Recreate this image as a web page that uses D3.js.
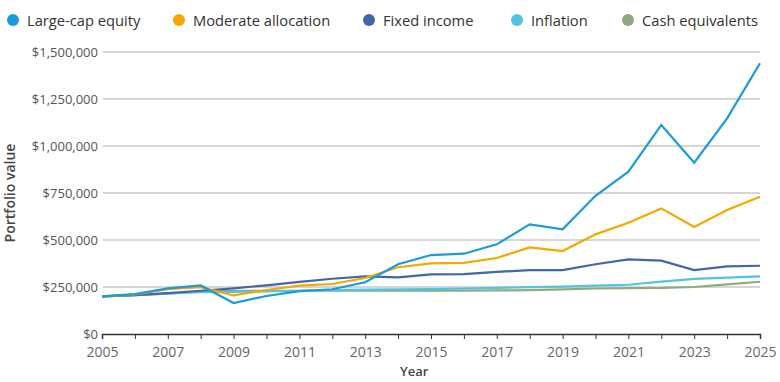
<!DOCTYPE html>
<html><head><meta charset="utf-8">
<script src="https://cdn.jsdelivr.net/npm/d3@7"></script>
<style>
body{margin:0;background:#fff;}
svg{display:block;font-family:"Open Sans",sans-serif;}
</style></head>
<body><svg id="c" width="780" height="382"></svg>
<script>
const years = [2005,2006,2007,2008,2009,2010,2011,2012,2013,2014,2015,2016,2017,2018,2019,2020,2021,2022,2023,2024,2025];
const seriesNames = ["Large-cap equity","Moderate allocation","Fixed income","Inflation","Cash equivalents"];
const seriesColors = ["#1b9bd7","#f5a800","#4466a8","#52c4e3","#8fab7e"];
const largeCap = [200000,212000,243000,258000,165000,202000,228000,238000,275000,371000,420000,427000,477000,583000,557000,735000,863000,1112000,911000,1147000,1440000];
const moderate = [200000,210000,238000,249000,205000,234000,257000,266000,298000,355000,376000,378000,404000,461000,441000,530000,592000,668000,569000,660000,730000];
const fixedInc = [200000,207000,217000,230000,243000,259000,277000,294000,307000,301000,317000,319000,330000,340000,340000,371000,397000,390000,340000,360000,363000];
const inflation = [200000,206000,216000,223000,224000,227000,230000,233000,236000,238000,239000,242000,245000,249000,252000,257000,262000,279000,293000,300000,307000];
const cash = [200000,206000,214000,226000,230000,230000,230000,230000,231000,231000,231000,231000,232000,233000,237000,242000,244000,245000,250000,264000,278000];
const yTicks = [0,250000,500000,750000,1000000,1250000,1500000];
const xTickLabels = [2005,2007,2009,2011,2013,2015,2017,2019,2021,2023,2025];
const legendX = [13,179,369,517,628];

const allSeries = [largeCap, moderate, fixedInc, inflation, cash];
const svg = d3.select("#c");
const x = d3.scaleLinear().domain([2005,2025]).range([102,760]);
const y = d3.scaleLinear().domain([0,1500000]).range([334,52]);

// gridlines
svg.append("g").selectAll("line").data(yTicks.filter(d=>d>0)).join("line")
  .attr("x1",103).attr("x2",760).attr("y1",d=>y(d)).attr("y2",d=>y(d))
  .attr("stroke","#c9c9c9").attr("stroke-width",1.5);

// y labels
svg.append("g").selectAll("text").data(yTicks).join("text")
  .attr("x",98).attr("y",d=>y(d)+4.5).attr("text-anchor","end")
  .attr("font-size",13).attr("fill","#555")
  .text(d=>"$"+d3.format(",")(d));

// x axis
const xAxis = d3.axisBottom(x).tickValues(years).tickSize(5).tickFormat(d=>xTickLabels.includes(d)?String(d):"");
const gx = svg.append("g").attr("transform","translate(0,334)").call(xAxis);
gx.select(".domain").attr("stroke","#333").attr("stroke-width",1.5);
gx.selectAll(".tick line").attr("stroke","#333");
gx.selectAll(".tick text").attr("font-size",14).attr("fill","#666").attr("dy","0").attr("y",23)
  .attr("font-family","Open Sans, sans-serif");

// titles
svg.append("text").attr("x",400).attr("y",376).attr("font-size",13).attr("font-weight",600)
  .attr("fill","#444").text("Year");
svg.append("text").attr("transform","translate(15,193) rotate(-90)").attr("text-anchor","middle")
  .attr("font-size",14).attr("font-weight",600).attr("fill","#444").text("Portfolio value");

// lines
const line = d3.line().x((d,i)=>x(years[i])).y(d=>y(d));
const order = [4,3,2,1,0];
svg.append("g").selectAll("path").data(order).join("path")
  .attr("d",i=>line(allSeries[i])).attr("fill","none")
  .attr("stroke",i=>seriesColors[i]).attr("stroke-width",2.2)
  .attr("stroke-linejoin","miter");

// legend
const lg = svg.append("g").selectAll("g").data(seriesNames).join("g")
  .attr("transform",(d,i)=>`translate(${legendX[i]},20)`);
lg.append("circle").attr("r",6).attr("fill",(d,i)=>seriesColors[i]);
lg.append("text").attr("x",14).attr("y",5.5).attr("font-size",14.7).attr("fill","#333").text(d=>d);
</script></body></html>
